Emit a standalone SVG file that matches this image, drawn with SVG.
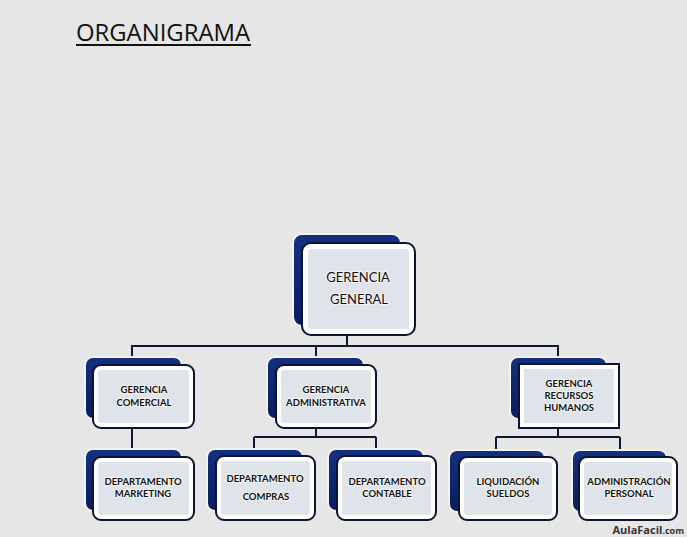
<svg xmlns="http://www.w3.org/2000/svg" width="687" height="537" viewBox="0 0 687 537">
<style>
.bg{fill:#e6e6e6}
.back{fill:url(#blue);stroke:#f2f2f2;stroke-width:2}
.front{fill:#ffffff;stroke:#0b1433;stroke-width:2}
.inner{fill:#dfe3ea}
.t{font-family:Lato,"Liberation Sans",sans-serif;font-weight:bold;fill:#111;text-anchor:middle;stroke:#f3f3f3;stroke-width:2;paint-order:stroke}
.s{font-size:9.5px}
.b{font-size:13px;font-weight:normal}
.c{fill:none;stroke:#0d1838;stroke-width:2}
</style>
<defs>
<linearGradient id="blue" x1="0" y1="0" x2="0" y2="1">
<stop offset="0" stop-color="#14307f"/>
<stop offset="1" stop-color="#0a1d5e"/>
</linearGradient>
</defs>
<rect class="bg" x="0" y="0" width="687" height="537"/>
<text x="76" y="41" font-family="Open Sans,Lato,sans-serif" font-size="24" fill="#111" textLength="174" lengthAdjust="spacingAndGlyphs">ORGANIGRAMA</text>
<line x1="76" y1="45" x2="251" y2="45" stroke="#111" stroke-width="2"/>

<g id="connectors">
<path class="c" d="M347 335V346M132 358V346H558V358M316 346V358"/>
<path class="c" d="M132 428V452"/>
<path class="c" d="M316 428V437M254 437H376M254 437V450M376 437V450"/>
<path class="c" d="M558 428V437M496 437H620M496 437V450M620 437V450"/>
</g>

<g id="gerencia-general">
<rect class="back" x="293" y="234" width="108" height="92" rx="9"/>
<rect class="front" x="302" y="243" width="113" height="92" rx="9"/>
<rect class="inner" x="308" y="249" width="101" height="80" rx="3"/>
<text class="t b" x="358" y="282">GERENCIA</text>
<text class="t b" x="359" y="304">GENERAL</text>
</g>

<g id="gerencia-comercial">
<rect class="back" x="85" y="357" width="97" height="62" rx="8"/>
<rect class="front" x="93" y="365" width="101" height="63" rx="8"/>
<rect class="inner" x="98" y="370" width="91" height="53" rx="3"/>
<text class="t s" x="144" y="393">GERENCIA</text>
<text class="t s" x="144" y="406">COMERCIAL</text>
</g>

<g id="gerencia-administrativa">
<rect class="back" x="267" y="357" width="97" height="62" rx="8"/>
<rect class="front" x="276" y="365" width="100" height="63" rx="8"/>
<rect class="inner" x="281" y="370" width="90" height="53" rx="3"/>
<text class="t s" x="326" y="393">GERENCIA</text>
<text class="t s" x="326" y="406">ADMINISTRATIVA</text>
</g>

<g id="gerencia-rrhh">
<rect class="back" x="510" y="357" width="97" height="62" rx="8"/>
<rect class="front" x="519" y="364" width="100" height="64"/>
<rect class="inner" x="524" y="369" width="90" height="54"/>
<text class="t s" x="569" y="387">GERENCIA</text>
<text class="t s" x="569" y="399">RECURSOS</text>
<text class="t s" x="569" y="411">HUMANOS</text>
</g>

<g id="departamento-marketing">
<rect class="back" x="85" y="449" width="97" height="62" rx="8"/>
<rect class="front" x="93" y="457" width="101" height="63" rx="8"/>
<rect class="inner" x="98" y="462" width="91" height="53" rx="3"/>
<text class="t s" x="143" y="485">DEPARTAMENTO</text>
<text class="t s" x="143" y="497">MARKETING</text>
</g>

<g id="departamento-compras">
<rect class="back" x="207" y="449" width="96" height="62" rx="8"/>
<rect class="front" x="216" y="456" width="99" height="64" rx="8"/>
<rect class="inner" x="221" y="461" width="89" height="54" rx="3"/>
<text class="t s" x="265" y="482">DEPARTAMENTO</text>
<text class="t s" x="266" y="500">COMPRAS</text>
</g>

<g id="departamento-contable">
<rect class="back" x="328" y="449" width="96" height="62" rx="8"/>
<rect class="front" x="337" y="456" width="99" height="64" rx="8"/>
<rect class="inner" x="342" y="461" width="89" height="54" rx="3"/>
<text class="t s" x="387" y="485">DEPARTAMENTO</text>
<text class="t s" x="387" y="497">CONTABLE</text>
</g>

<g id="liquidacion-sueldos">
<rect class="back" x="449" y="450" width="96" height="62" rx="8"/>
<rect class="front" x="459" y="457" width="98" height="63" rx="8"/>
<rect class="inner" x="464" y="462" width="88" height="53" rx="3"/>
<text class="t s" x="508" y="485">LIQUIDACIÓN</text>
<text class="t s" x="508" y="497">SUELDOS</text>
</g>

<g id="administracion-personal">
<rect class="back" x="572" y="450" width="95" height="62" rx="8"/>
<rect class="front" x="579" y="457" width="98" height="63" rx="8"/>
<rect class="inner" x="584" y="462" width="88" height="53" rx="3"/>
<text class="t s" x="629" y="485">ADMINISTRACIÓN</text>
<text class="t s" x="629" y="497">PERSONAL</text>
</g>

<text x="684" y="534" font-family="Open Sans,Lato,sans-serif" font-size="11" font-weight="bold" fill="#333" text-anchor="end">AulaFacil<tspan font-size="9">.com</tspan></text>
</svg>
